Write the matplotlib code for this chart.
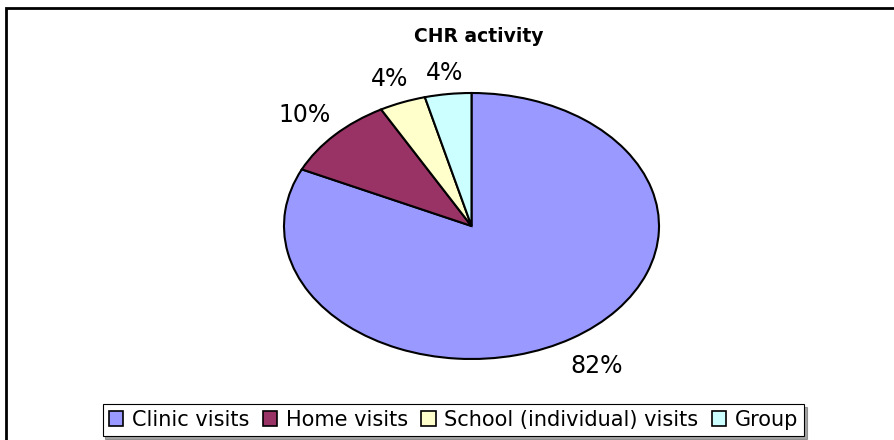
import matplotlib
matplotlib.use('Agg')
import matplotlib.pyplot as plt
import numpy as np
from matplotlib.patches import Rectangle

# data
categories = ['Clinic visits', 'Home visits', 'School (individual) visits', 'Group']
shares = [82, 10, 4, 4]
colors = ['#9999FF', '#993366', '#FFFFCC', '#CCFFFF']
label_dist = [1.25, 1.22, 1.19, 1.16]  # how far out each % label sits

plt.rcParams['font.family'] = ['DejaVu Sans']

fig = plt.figure(figsize=(8.94, 4.40), dpi=100)
fig.patch.set_facecolor('white')

# outer chart frame (right and bottom run off the picture)
fig.patches.append(Rectangle((6 / 894, -0.1), 2.0, 1 - 8 / 440 + 0.1,
                             transform=fig.transFigure, fill=False,
                             edgecolor='black', linewidth=2))

ax = fig.add_axes([284 / 894, (440 - 359) / 440, 375 / 894, 266 / 440])
wedges, texts, autotexts = ax.pie(
    shares, colors=colors, startangle=90, counterclock=False,
    autopct='%1.0f%%', pctdistance=1.21,
    wedgeprops=dict(edgecolor='black', linewidth=1.5),
    textprops=dict(fontsize=17, color='black'))
ax.set_aspect('auto')
ax.set_xlim(-1, 1)
ax.set_ylim(-1, 1)

# push each label out along the middle of its wedge
for w, t, d in zip(wedges, autotexts, label_dist):
    mid = np.deg2rad((w.theta1 + w.theta2) / 2)
    t.set_position((d * np.cos(mid), d * np.sin(mid)))

fig.text(479 / 894, 1 - 36 / 440, 'CHR activity', ha='center', va='center',
         fontsize=13.5, fontweight='bold')

leg = fig.legend(wedges, categories, loc='center', ncol=4,
                 bbox_to_anchor=(453.5 / 894, 1 - 420 / 440),
                 fontsize=15, frameon=True, fancybox=False, shadow=True,
                 handlelength=0.7, handleheight=0.7, handletextpad=0.4,
                 columnspacing=0.65, borderpad=0.3, borderaxespad=0)
leg.get_frame().set_edgecolor('black')
leg.get_frame().set_linewidth(0.8)
for h in leg.legend_handles:
    h.set_linewidth(1.2)

fig.savefig('out.png', dpi=100)
